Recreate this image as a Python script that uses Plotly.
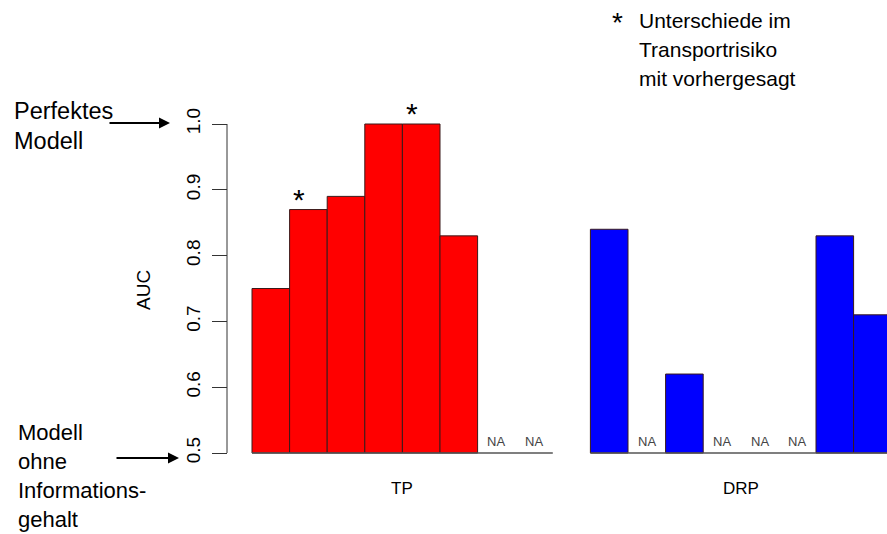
import plotly.graph_objects as go

# ---- data ----
groups = ["TP", "DRP"]
tp_auc = [0.75, 0.87, 0.89, 1.00, 1.00, 0.83, None, None]
drp_auc = [0.84, None, 0.62, None, None, None, 0.83, 0.71]
tp_star = [False, True, False, False, True, False, False, False]
drp_star = [False] * 8
group_colors = ["#FF0000", "#0000FF"]
y_ticks = [0.5, 0.6, 0.7, 0.8, 0.9, 1.0]
y_tick_labels = ["0.5", "0.6", "0.7", "0.8", "0.9", "1.0"]
baseline = 0.5
legend_lines = ["Unterschiede im", "Transportrisiko", "mit vorhergesagt"]
top_note = ["Perfektes", "Modell"]
bottom_note = ["Modell", "ohne", "Informations-", "gehalt"]

FONT = "Liberation Sans, Arial, sans-serif"
W, H = 887, 534

fig = go.Figure()
annotations = []
shapes = []


def py(p):
    """pixel row -> paper y"""
    return 1 - p / H


series = [tp_auc, drp_auc]
stars = [tp_star, drp_star]
offset = 0
for g, vals in enumerate(series):
    xs = [offset + i for i in range(len(vals))]
    fig.add_trace(go.Bar(
        x=xs,
        y=[(v - baseline) if v is not None else None for v in vals],
        base=baseline,
        width=1,
        marker=dict(color=group_colors[g], line=dict(color="#3a1a1a", width=1)),
        showlegend=False,
        hoverinfo="skip",
    ))
    shapes.append(dict(type="line", xref="x", yref="y",
                       x0=xs[0] - 0.5, x1=xs[-1] + 0.5, y0=baseline, y1=baseline,
                       line=dict(color="#555555", width=1.5)))
    for x, v in zip(xs, vals):
        if v is None:
            annotations.append(dict(x=x, y=baseline, xref="x", yref="y", text="NA",
                                    showarrow=False, xanchor="center", yanchor="bottom", yshift=2,
                                    font=dict(family=FONT, size=13, color="#444444")))
    for x, v, s in zip(xs, vals, stars[g]):
        if s and v is not None:
            annotations.append(dict(x=x, y=v, xref="x", yref="y", text="*",
                                    showarrow=False, xanchor="center", yanchor="bottom",
                                    xshift=-9, yshift=-8,
                                    font=dict(family=FONT, size=30, color="black")))
    annotations.append(dict(x=(xs[0] + xs[-1]) / 2, y=py(488), xref="x", yref="paper",
                            text=groups[g], showarrow=False, xanchor="center", yanchor="middle",
                            font=dict(family=FONT, size=17, color="black")))
    offset += len(vals) + 1

axis_pos = 227 / W
shapes.append(dict(type="line", xref="paper", yref="y", x0=axis_pos, x1=axis_pos,
                   y0=y_ticks[0], y1=y_ticks[-1], line=dict(color="#333333", width=1)))

annotations.append(dict(x=143 / W, y=py(290), xref="paper", yref="paper", text="AUC",
                        textangle=-90, showarrow=False, xanchor="center", yanchor="middle",
                        font=dict(family=FONT, size=19, color="black")))

annotations.append(dict(x=617 / W, y=py(23), xref="paper", yref="paper", text="*",
                        showarrow=False, xanchor="center", yanchor="middle",
                        font=dict(family=FONT, size=28, color="black")))
for k, line in enumerate(legend_lines):
    annotations.append(dict(x=637 / W, y=py(21 + 28.5 * k), xref="paper", yref="paper",
                            text=line, showarrow=False, xanchor="left", yanchor="middle",
                            font=dict(family=FONT, size=21, color="black")))

for k, line in enumerate(top_note):
    annotations.append(dict(x=12 / W, y=py(111 + 30 * k), xref="paper", yref="paper",
                            text=line, showarrow=False, xanchor="left", yanchor="middle",
                            font=dict(family=FONT, size=23.5, color="black")))
for k, line in enumerate(bottom_note):
    annotations.append(dict(x=16 / W, y=py(432 + 29 * k), xref="paper", yref="paper",
                            text=line, showarrow=False, xanchor="left", yanchor="middle",
                            font=dict(family=FONT, size=22, color="black")))

annotations.append(dict(x=170 / W, y=py(123), xref="paper", yref="paper", text="",
                        showarrow=True, ax=-62, ay=0, arrowhead=2, arrowsize=1.1,
                        arrowwidth=2, arrowcolor="black"))
annotations.append(dict(x=179 / W, y=py(458), xref="paper", yref="paper", text="",
                        showarrow=True, ax=-64, ay=0, arrowhead=2, arrowsize=1.1,
                        arrowwidth=2, arrowcolor="black"))

bar_px = 37.6
x0_px = 270.8
xmin = -x0_px / bar_px
xmax = xmin + W / bar_px
px_per_unit = 658
ymin = baseline - (H - 453) / px_per_unit
ymax = baseline + 453 / px_per_unit

fig.update_layout(
    width=W, height=H,
    margin=dict(l=0, r=0, t=0, b=0),
    paper_bgcolor="white", plot_bgcolor="white",
    barmode="overlay",
    xaxis=dict(range=[xmin, xmax], visible=False, domain=[0, 1]),
    yaxis=dict(range=[ymin, ymax], anchor="free", position=axis_pos,
               tickvals=y_ticks, ticktext=y_tick_labels, tickangle=-90,
               ticks="outside", ticklen=15, tickcolor="#333333", tickwidth=1,
               ticklabelstandoff=4,
               showgrid=False, zeroline=False, showline=False,
               tickfont=dict(family=FONT, size=19, color="black")),
    shapes=shapes,
    annotations=annotations,
)

fig.write_html("out.html", config={"displayModeBar": False},
               post_script="document.body.style.margin='0px';")
